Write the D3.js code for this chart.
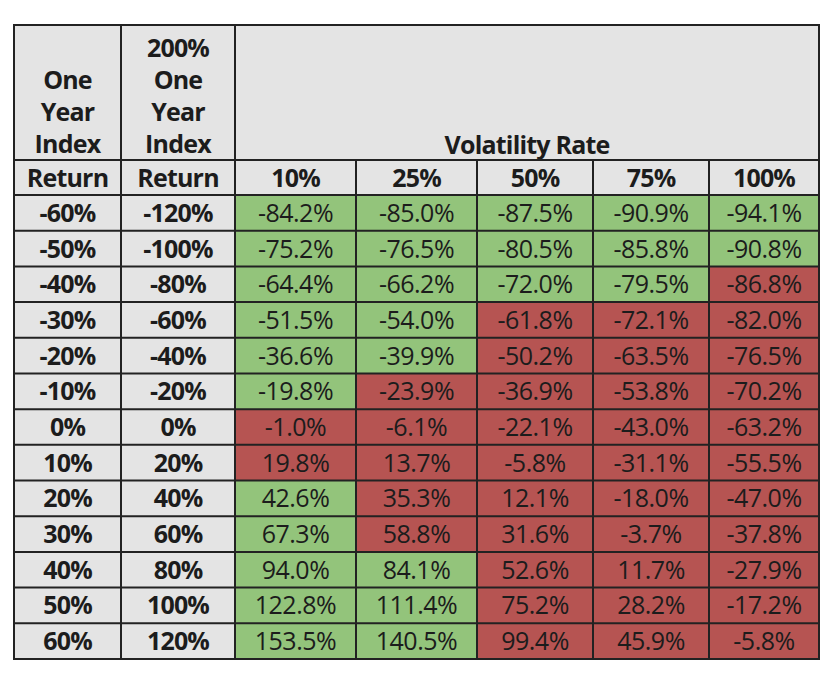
<!DOCTYPE html>
<html><head><meta charset="utf-8">
<script src="https://cdn.jsdelivr.net/npm/d3@7"></script>
<style>
body{margin:0;background:#fff;}
svg{display:block;font-family:"Open Sans",sans-serif;}
</style></head>
<body><svg id="c" width="834" height="678"></svg>
<script>
// ---- data ----
const indexReturns = [-60,-50,-40,-30,-20,-10,0,10,20,30,40,50,60];
const leveragedReturns = [-120,-100,-80,-60,-40,-20,0,20,40,60,80,100,120];
const volatilityRates = ["10%","25%","50%","75%","100%"];
const vol10  = [-84.2,-75.2,-64.4,-51.5,-36.6,-19.8,-1.0,19.8,42.6,67.3,94.0,122.8,153.5];
const vol25  = [-85.0,-76.5,-66.2,-54.0,-39.9,-23.9,-6.1,13.7,35.3,58.8,84.1,111.4,140.5];
const vol50  = [-87.5,-80.5,-72.0,-61.8,-50.2,-36.9,-22.1,-5.8,12.1,31.6,52.6,75.2,99.4];
const vol75  = [-90.9,-85.8,-79.5,-72.1,-63.5,-53.8,-43.0,-31.1,-18.0,-3.7,11.7,28.2,45.9];
const vol100 = [-94.1,-90.8,-86.8,-82.0,-76.5,-70.2,-63.2,-55.5,-47.0,-37.8,-27.9,-17.2,-5.8];
const seriesValues = [vol10, vol25, vol50, vol75, vol100];

// ---- layout ----
const L = 14, T = 25, R = 819, B = 659;
const headSplit = 160, dataTop = 195;
const colEdges = [14,121,235,356,477,593,709,819];
const colKeys = ["idx","lev"].concat(volatilityRates);
const GRAY = "#e4e4e4", GREEN = "#93c47b", RED = "#b65452", LINE = "#222";
const FS = 25;

const svg = d3.select("#c");
const x0 = d3.scaleOrdinal().domain(colKeys).range(colEdges.slice(0,-1));
const x1 = d3.scaleOrdinal().domain(colKeys).range(colEdges.slice(1));
const y = d3.scaleBand().domain(indexReturns).range([dataTop, B]);

svg.append("rect").attr("x",L).attr("y",T).attr("width",R-L).attr("height",dataTop-T).attr("fill",GRAY);

const rows = indexReturns.map((r,i)=>({r, lev:leveragedReturns[i], i}));
rows.forEach(row=>{
  const cells = [
    {key:"idx", text:row.r+"%", fill:GRAY, bold:true},
    {key:"lev", text:row.lev+"%", fill:GRAY, bold:true}
  ];
  volatilityRates.forEach((v,j)=>{
    const val = seriesValues[j][row.i];
    cells.push({key:v, text:val.toFixed(1)+"%", fill: val >= row.lev ? GREEN : RED, bold:false});
  });
  const g = svg.append("g");
  g.selectAll("rect").data(cells).join("rect")
    .attr("x",d=>x0(d.key)).attr("y",y(row.r))
    .attr("width",d=>x1(d.key)-x0(d.key)).attr("height",y.bandwidth())
    .attr("fill",d=>d.fill);
  g.selectAll("text").data(cells).join("text")
    .attr("x",d=>(x0(d.key)+x1(d.key))/2)
    .attr("y",y(row.r)+y.bandwidth()/2+FS*0.36)
    .attr("text-anchor","middle")
    .attr("font-size",FS)
    .attr("font-weight",d=>d.bold?700:400)
    .attr("fill","#1c1c1c")
    .attr("letter-spacing", d=>d.bold? "-0.8px":"-0.5px")
    .text(d=>d.text);
});

const hdr = svg.append("g").attr("font-size",FS).attr("font-weight",700).attr("fill","#1c1c1c").attr("text-anchor","middle").attr("letter-spacing","-0.8px");
const hLines = [["One","Year","Index"],["200%","One","Year","Index"]];
hLines.forEach((lines,k)=>{
  const cx = (x0(colKeys[k])+x1(colKeys[k]))/2;
  lines.forEach((t,m)=>{
    hdr.append("text").attr("x",cx).attr("y",headSplit-7-(lines.length-1-m)*32).text(t);
  });
  hdr.append("text").attr("x",cx).attr("y",(headSplit+dataTop)/2+FS*0.36).text("Return");
});
hdr.append("text").attr("x",(colEdges[2]+R)/2).attr("y",headSplit-6).text("Volatility Rate");
volatilityRates.forEach(v=>{
  hdr.append("text").attr("x",(x0(v)+x1(v))/2).attr("y",(headSplit+dataTop)/2+FS*0.36).text(v);
});

const grid = svg.append("g").attr("stroke",LINE).attr("stroke-width",2).attr("fill","none");
grid.append("line").attr("x1",L).attr("x2",R).attr("y1",headSplit).attr("y2",headSplit);
indexReturns.forEach(r=>{
  grid.append("line").attr("x1",L).attr("x2",R).attr("y1",y(r)).attr("y2",y(r));
});
colEdges.slice(1,-1).forEach((xe,k)=>{
  grid.append("line").attr("x1",xe).attr("x2",xe).attr("y1", k>=2 ? headSplit : T).attr("y2",B);
});
grid.append("rect").attr("x",L).attr("y",T).attr("width",R-L).attr("height",B-T);
</script></body></html>
